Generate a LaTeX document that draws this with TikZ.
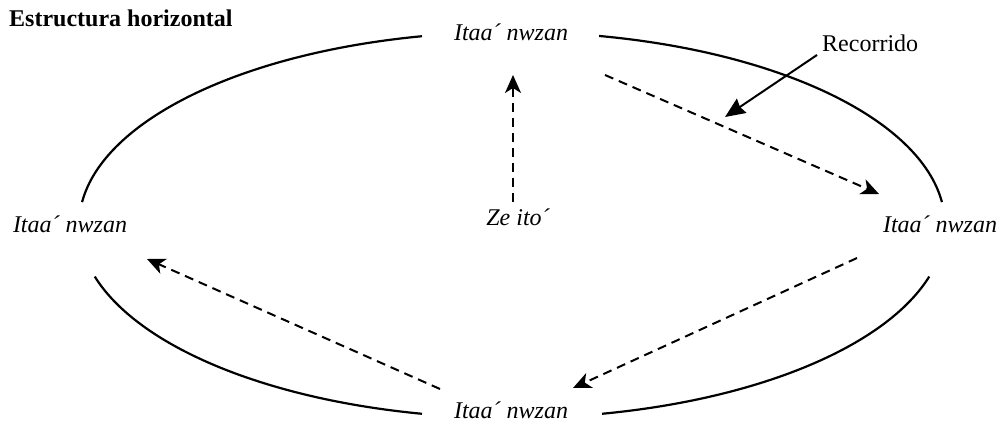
\documentclass[tikz,border=0pt]{standalone}
\usepackage{fontspec}
\setmainfont{Liberation Serif}
\usetikzlibrary{arrows.meta}
\begin{document}
\begin{tikzpicture}[x=1pt,y=1pt,
  lbl/.style={inner sep=0pt,font=\fontsize{24}{28}\selectfont\itshape},
  ttl/.style={inner sep=0pt,font=\fontsize{24}{28}\selectfont\bfseries},
  plain/.style={inner sep=0pt,font=\fontsize{24}{28}\selectfont},
  arcline/.style={line width=2.2pt},
  path/.style={line width=2pt,dash pattern=on 9pt off 6pt,-{Stealth[length=18pt,width=16pt,inset=5pt]}},
  callout/.style={line width=2pt,-{Stealth[length=20pt,width=17pt,inset=2pt]}}]
\useasboundingbox (0,0) rectangle (1000,423);
% ellipse centre
\coordinate (E) at (512,198);
% texts
\node[ttl,anchor=base west] (title) at (9,396) {Estructura horizontal};
\node[lbl,anchor=base] (top) at (511,382) {Itaa´ nwzan};
\node[lbl,anchor=base] (left) at (70,190) {Itaa´ nwzan};
\node[lbl,anchor=base] (right) at (940,190) {Itaa´ nwzan};
\node[lbl,anchor=base] (bottom) at (511,5) {Itaa´ nwzan};
\node[lbl,anchor=base] (ze) at (518,197) {Ze ito´};
\node[plain,anchor=base west] (rec) at (822,371) {Recorrido};
% ellipse arcs
\draw[arcline] ([shift={(173.2:433 and 193)}]E) arc[start angle=173.2,end angle=102,x radius=433,y radius=193];
\draw[arcline] ([shift={(78.4:433 and 193)}]E) arc[start angle=78.4,end angle=6.8,x radius=433,y radius=193];
\draw[arcline] ([shift={(195.5:433 and 193)}]E) arc[start angle=195.5,end angle=258,x radius=433,y radius=193];
\draw[arcline] ([shift={(282:433 and 193)}]E) arc[start angle=282,end angle=344.5,x radius=433,y radius=193];
% arrow end points
\coordinate (v1) at (513,221);
\coordinate (v2) at (513,348);
\coordinate (r1) at (605,348);
\coordinate (r2) at (879,229);
\coordinate (b1) at (857,165);
\coordinate (b2) at (573,35);
\coordinate (l1) at (440,34);
\coordinate (l2) at (147,164);
\coordinate (c1) at (817,368);
\coordinate (c2) at (725,306);
% arrows
\draw[path] (v1) -- (v2);
\draw[path] (r1) -- (r2);
\draw[path] (b1) -- (b2);
\draw[path] (l1) -- (l2);
\draw[callout] (c1) -- (c2);
\end{tikzpicture}
\end{document}
